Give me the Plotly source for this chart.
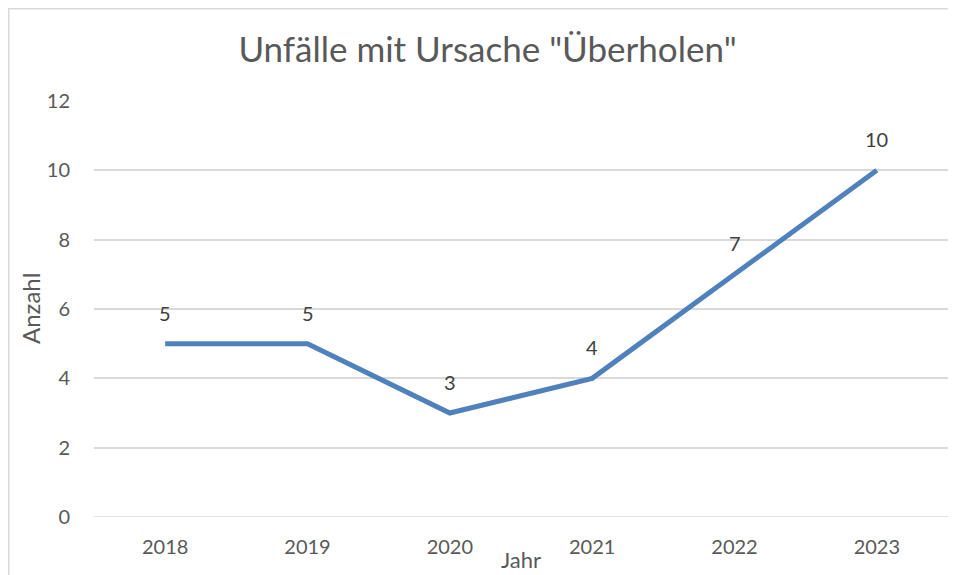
import plotly.graph_objects as go

years = ["2018", "2019", "2020", "2021", "2022", "2023"]
values = [5, 5, 3, 4, 7, 10]
y_ticks = [0, 2, 4, 6, 8, 10, 12]

FONT = "Lato, Open Sans, sans-serif"
GREY = "#595959"

# the page body adds ~8px margin, so the figure is sized/offset accordingly
W, H = 948, 567
L, R, T, B = 86, 8, 93, 58
PW, PH = W - L - R, H - T - B

fig = go.Figure()
fig.add_trace(go.Scatter(
    x=years, y=values, mode="lines",
    line=dict(color="#4F81BD", width=5),
    hoverinfo="skip", showlegend=False,
))

for i, v in enumerate(values):
    fig.add_annotation(x=i, y=v, xref="x", yref="y", text=str(v), showarrow=False,
                       yshift=31, font=dict(family=FONT, size=20, color="#404040"))

# axis titles (Excel places "Jahr" overlapping the tick-label row)
fig.add_annotation(text="Anzahl", xref="paper", yref="paper", x=(22 - L) / PW, y=0.5,
                   textangle=-90, showarrow=False, xanchor="center", yanchor="middle",
                   font=dict(family=FONT, size=24, color=GREY))
fig.add_annotation(text="Jahr", xref="paper", yref="paper", x=0.5, y=(H - B - 551) / PH,
                   showarrow=False, xanchor="center", yanchor="middle", borderpad=0,
                   font=dict(family=FONT, size=22, color=GREY))

fig.update_layout(
    width=W, height=H,
    margin=dict(l=L, r=R, t=T, b=B),
    paper_bgcolor="white", plot_bgcolor="white",
    title=dict(text='Unfälle mit Ursache "Überholen"', x=479.5 / W, xref="container",
               xanchor="center", y=1 - 42 / H, yanchor="middle",
               font=dict(family=FONT, size=35, color=GREY)),
    xaxis=dict(type="category", range=[-0.5, 5.5], showgrid=False, showline=False,
               ticks="", ticklabelstandoff=16,
               tickfont=dict(family=FONT, size=20, color=GREY)),
    yaxis=dict(range=[0, 12], tickvals=y_ticks, showgrid=True, gridcolor="#D9D9D9",
               gridwidth=1.5, zeroline=False, showline=False, ticks="",
               ticklabelstandoff=23,
               tickfont=dict(family=FONT, size=20, color=GREY)),
)
fig.add_hline(y=0, line=dict(color="#D9D9D9", width=1.5))
fig.add_shape(type="rect", xref="paper", yref="paper",
              x0=(0.75 - L) / PW, x1=(W + 20 - L) / PW,
              y0=(H - B - (H + 30)) / PH, y1=(H - B - 0.75) / PH,
              line=dict(color="#D9D9D9", width=1.5), fillcolor="rgba(0,0,0,0)", layer="below")

fig.write_html("out.html")
